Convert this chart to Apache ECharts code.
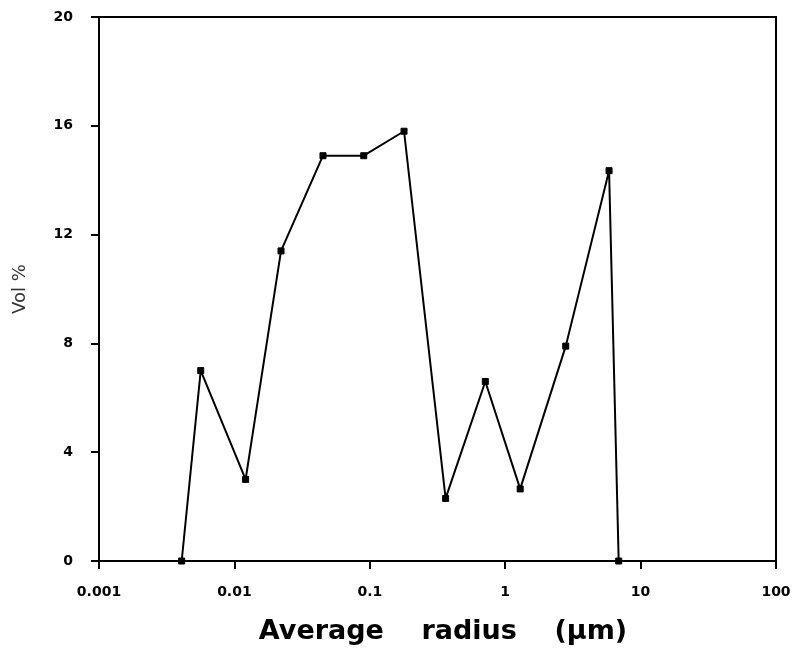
<!DOCTYPE html>
<html>
<head>
<meta charset="utf-8">
<script src="https://cdn.jsdelivr.net/npm/echarts@6/dist/echarts.min.js"></script>
<style>html,body{margin:0;padding:0;background:#fff;}#c{width:797px;height:651px;}</style>
</head>
<body>
<div id="c"></div>
<script>
const radius = [0.00408, 0.00564, 0.0121, 0.0221, 0.0451, 0.0902, 0.179, 0.363, 0.713, 1.29, 2.80, 5.85, 6.89];
const volPct = [0, 7.0, 3.0, 11.4, 14.9, 14.9, 15.8, 2.3, 6.6, 2.65, 7.9, 14.35, 0];
const xTicks = ['0.001', '0.01', '0.1', '1', '10', '100'];
const yTicks = [0, 4, 8, 12, 16, 20];

const chart = echarts.init(document.getElementById('c'));
const tickFont = {fontFamily: 'DejaVu Sans', fontWeight: 'bold', fontSize: 14, color: '#000'};
chart.setOption({
  animation: false,
  backgroundColor: '#fff',
  grid: {left: 99, right: 21, top: 17, bottom: 90, outerBoundsMode: 'none', containLabel: false,
         show: true, borderColor: '#000', borderWidth: 2},
  xAxis: {
    type: 'log', logBase: 10, min: 0.001, max: 100,
    name: 'Average    radius    (μm)',
    nameLocation: 'middle', nameGap: 57,
    nameTextStyle: {fontFamily: 'DejaVu Sans', fontWeight: 'bold', fontSize: 27, color: '#000', padding: [0, 0, 0, 11]},
    axisLine: {lineStyle: {color: '#000', width: 2}},
    axisTick: {inside: false, length: 8, lineStyle: {color: '#000', width: 2}},
    splitLine: {show: false},
    axisLabel: Object.assign({margin: 24, formatter: function (v) {
      const e = Math.round(Math.log10(v)) + 3;
      return xTicks[e] !== undefined ? xTicks[e] : '';
    }}, tickFont)
  },
  yAxis: {
    type: 'value', min: 0, max: 20, interval: 4,
    name: 'Vol %', nameLocation: 'middle', nameGap: 70,
    nameTextStyle: {fontFamily: 'DejaVu Sans', fontSize: 18, color: '#333'},
    axisLine: {show: true, lineStyle: {color: '#000', width: 2}},
    axisTick: {show: true, inside: false, length: 8, lineStyle: {color: '#000', width: 2}},
    splitLine: {show: false},
    axisLabel: Object.assign({margin: 26, formatter: function (v) {
      return yTicks.indexOf(v) >= 0 ? String(v) : '';
    }}, tickFont)
  },
  series: [{
    type: 'line',
    data: radius.map((r, i) => [r, volPct[i]]),
    symbol: 'rect', symbolSize: 6,
    lineStyle: {color: '#000', width: 2},
    itemStyle: {color: '#000', borderColor: '#000'}
  }]
});
</script>
</body>
</html>
